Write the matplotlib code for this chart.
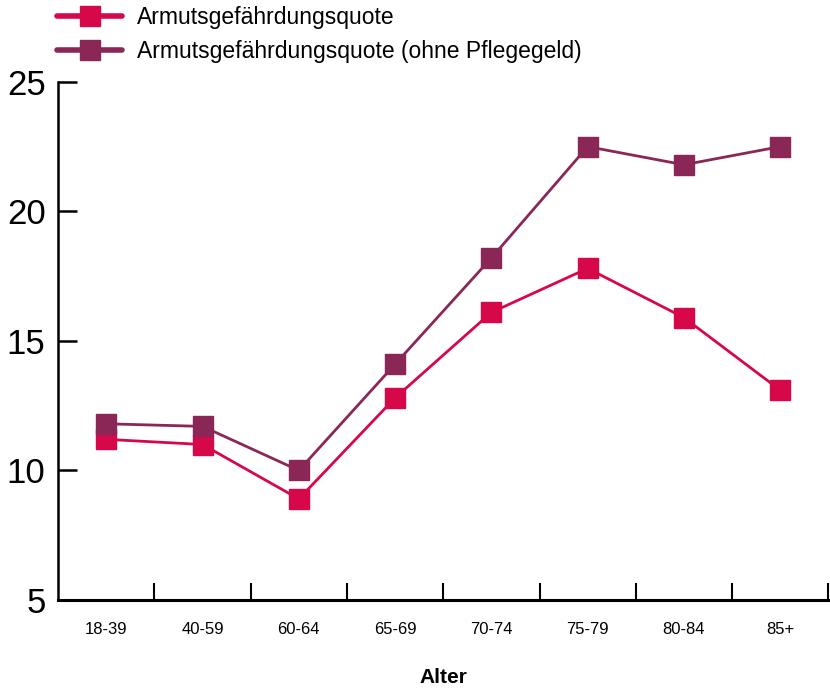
import matplotlib.pyplot as plt
import numpy as np

plt.rcParams['font.family'] = ['Liberation Sans', 'DejaVu Sans']

# Daten
alter = ['18-39', '40-59', '60-64', '65-69', '70-74', '75-79', '80-84', '85+']
quote = [11.2, 11.0, 8.9, 12.8, 16.1, 17.8, 15.9, 13.1]
quote_ohne_pflegegeld = [11.8, 11.7, 10.0, 14.1, 18.2, 22.5, 21.8, 22.5]
y_ticks = [5, 10, 15, 20, 25]

fig = plt.figure(figsize=(8.3, 6.88), dpi=100)
ax = fig.add_axes([0.070, 0.128, 0.928, 0.753])

x = np.arange(len(alter))
ax.plot(x, quote, color='#D6084A', lw=2, marker='s', ms=14,
        label='Armutsgefährdungsquote', zorder=3)
ax.plot(x, quote_ohne_pflegegeld, color='#8B2757', lw=2, marker='s', ms=14,
        label='Armutsgefährdungsquote (ohne Pflegegeld)', zorder=3)

ax.set_xlim(-0.5, len(alter) - 0.5)
ax.set_ylim(5, 25)
ax.set_yticks(y_ticks)
ax.set_yticklabels([str(v) for v in y_ticks], fontsize=25)
ax.tick_params(axis='y', direction='in', length=14, width=1.8, pad=9)

ax.set_xticks(x)
ax.set_xticklabels(alter, fontsize=12)
ax.tick_params(axis='x', which='major', length=0, pad=16)
ax.set_xticks(list(x[:-1] + 0.5) + [len(alter) - 0.5], minor=True)
ax.tick_params(axis='x', which='minor', direction='in', length=12, width=1.5)

ax.set_xlabel('Alter', fontsize=15, fontweight='bold', labelpad=22)

for s in ['top', 'right']:
    ax.spines[s].set_visible(False)
ax.spines['left'].set_linewidth(1.8)
ax.spines['bottom'].set_linewidth(2.2)

leg = ax.legend(loc='lower left', bbox_to_anchor=(-0.026, 1.0), frameon=False,
                fontsize=16.5, handlelength=2.85, labelspacing=0.5,
                borderaxespad=0.42, handletextpad=0.65)
for line in leg.get_lines():
    line.set_linewidth(4)
    line.set_solid_capstyle('round')

fig.savefig('out.png', dpi=100)
